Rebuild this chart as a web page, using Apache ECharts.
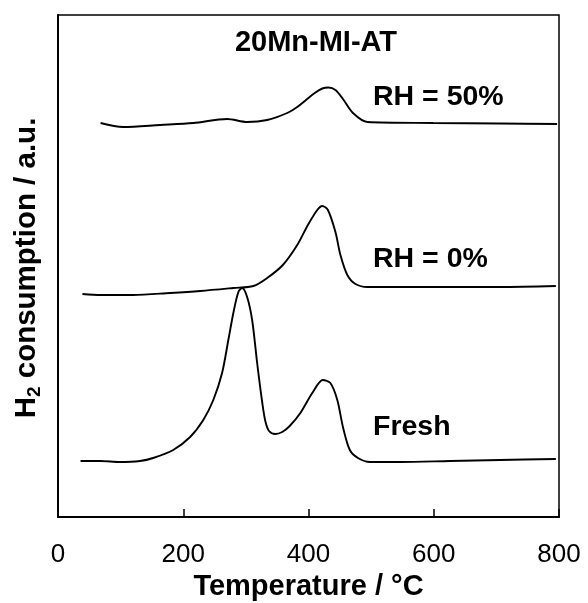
<!DOCTYPE html>
<html>
<head>
<meta charset="utf-8">
<script src="https://cdn.jsdelivr.net/npm/echarts@6/dist/echarts.min.js"></script>
<style>html,body{margin:0;padding:0;background:#fff;}#c{width:588px;height:603px;}</style>
</head>
<body>
<div id="c"></div>
<script>
// Temperature (°C) and signal (a.u.)
var freshT = [36, 68, 99, 131, 152, 184, 211, 232, 248, 262, 272, 280, 288, 294, 302, 310, 318, 326, 331, 337, 347, 358, 370, 387, 406, 423, 435, 446, 455, 466, 479, 498, 546, 626, 706, 795];
var freshV = [56, 56, 55, 56, 59, 67, 80, 97, 117, 144, 177, 204, 225, 229, 220, 197, 154, 115, 96, 86, 83, 85, 91, 104, 124, 137, 134, 117, 90, 67, 59, 55, 55, 56, 57, 58];
var rh0T = [39, 68, 120, 179, 227, 280, 312, 334, 359, 382, 399, 414, 422, 431, 443, 451, 462, 475, 494, 546, 637, 706, 795];
var rh0V = [223, 222, 222, 224, 226, 229, 231, 239, 252, 272, 292, 307, 311, 307, 285, 262, 242, 233, 230, 230, 230, 230, 231];
var rh50T = [68, 104, 163, 216, 270, 302, 334, 366, 382, 396, 410, 422, 432, 443, 455, 471, 494, 599, 706, 797];
var rh50V = [394, 390, 392, 394, 398, 395, 397, 404, 410, 417, 424, 428.5, 429.5, 427, 418, 404, 395, 394, 393.5, 393];
var xTicks = [0, 200, 400, 600, 800];
var seriesNames = ['Fresh', 'RH = 0%', 'RH = 50%'];
var sampleName = '20Mn-MI-AT';

function zip(a, b) { return a.map(function (v, i) { return [v, b[i]]; }); }

var FF = '"Liberation Sans", Arial, sans-serif';
var chart = echarts.init(document.getElementById('c'));
function lineSeries(name, T, V) {
  return {
    name: name, type: 'line', data: zip(T, V), showSymbol: false, smooth: 0.3,
    lineStyle: { color: '#000', width: 1.9 }, itemStyle: { color: '#000' }, animation: false
  };
}
function lbl(text, x, y, align, size) {
  return {
    type: 'text', x: x, y: y, silent: true,
    style: { text: text, fill: '#000', font: 'bold ' + size + 'px ' + FF, fontSize: size, fontWeight: 'bold', fontFamily: FF,
      align: align, verticalAlign: 'middle', textAlign: align, textVerticalAlign: 'middle' }
  };
}
chart.setOption({
  animation: false,
  backgroundColor: '#fff',
  grid: { left: 58, right: 29, top: 15, bottom: 86, show: true, borderColor: '#000', borderWidth: 1.5, backgroundColor: 'transparent', containLabel: false, outerBoundsMode: 'none' },
  xAxis: {
    type: 'value', min: xTicks[0], max: xTicks[xTicks.length - 1], interval: 200,
    axisLine: { show: true, lineStyle: { color: '#000', width: 2 } },
    axisTick: { show: true, inside: true, length: 8, lineStyle: { color: '#000', width: 1.5 } },
    axisLabel: { color: '#000', fontSize: 26, fontFamily: FF, margin: 25 },
    splitLine: { show: false },
    name: 'Temperature / °C', nameLocation: 'middle', nameGap: 55,
    nameTextStyle: { color: '#000', fontSize: 29, fontWeight: 'bold', fontFamily: FF }
  },
  yAxis: {
    type: 'value', min: 0, max: 502,
    axisLine: { show: true, lineStyle: { color: '#000', width: 2 } },
    axisTick: { show: false }, axisLabel: { show: false }, splitLine: { show: false },
    name: '{b|H}{s|2}{b| consumption / a.u.}', nameLocation: 'middle', nameGap: 14,
    nameTextStyle: {
      color: '#000', fontFamily: FF, padding: [0, 4, 0, 0],
      rich: {
        b: { fontSize: 29.5, fontWeight: 'bold', fontFamily: FF, color: '#000' },
        s: { fontSize: 19, fontWeight: 'bold', fontFamily: FF, color: '#000', padding: [15, 0, 0, 0] }
      }
    }
  },
  series: [
    lineSeries(seriesNames[0], freshT, freshV),
    lineSeries(seriesNames[1], rh0T, rh0V),
    lineSeries(seriesNames[2], rh50T, rh50V)
  ],
  graphic: [
    lbl(sampleName, 316, 43, 'center', 29),
    lbl(seriesNames[2], 373, 97, 'left', 28.5),
    lbl(seriesNames[1], 373, 259, 'left', 28.5),
    lbl(seriesNames[0], 373, 427, 'left', 28.5)
  ]
});
</script>
</body>
</html>
